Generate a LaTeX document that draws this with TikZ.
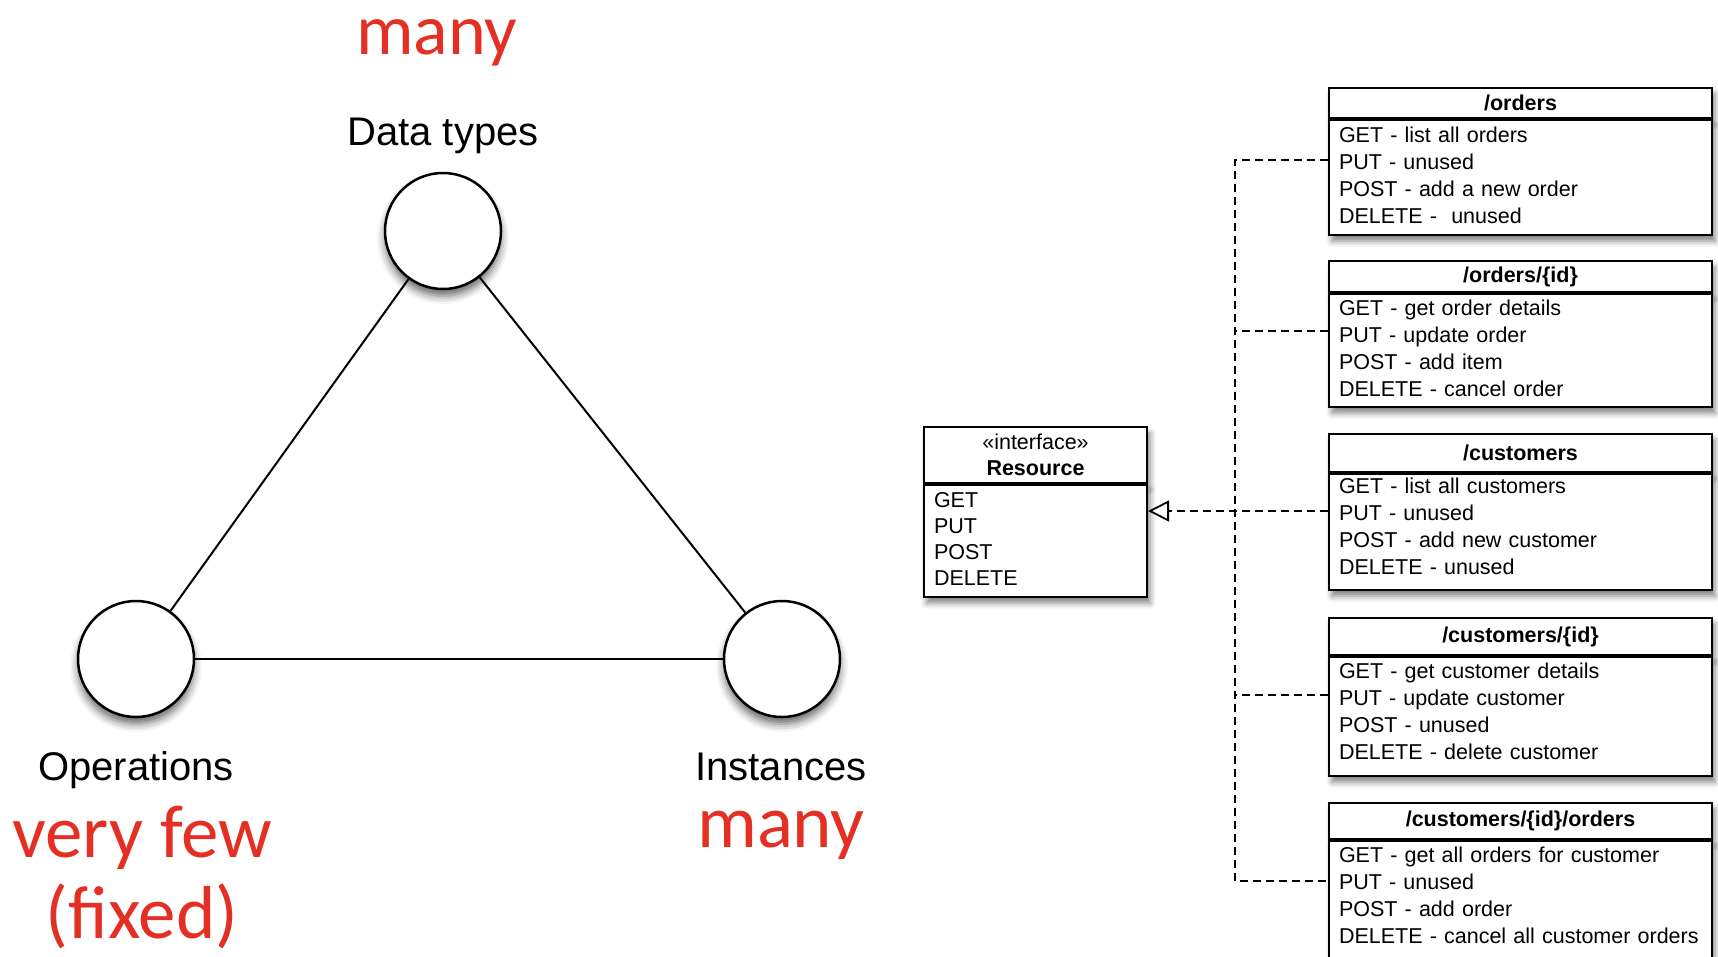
\documentclass[tikz,border=0pt]{standalone}
\usepackage{fontspec}
\setmainfont{Liberation Sans}
\newfontfamily\redfont{Carlito}
\usetikzlibrary{arrows.meta,shadows.blur,calc}
\definecolor{redtxt}{RGB}{228,48,36}
\tikzset{
  softshadow/.style={blur shadow={shadow xshift=3pt, shadow yshift=-6pt, shadow blur radius=6pt, shadow opacity=50}},
  vert/.style={circle, draw, line width=2.5pt, fill=white, minimum size=116pt, inner sep=0pt,
    blur shadow={shadow xshift=0pt, shadow yshift=-7pt, shadow blur radius=8pt, shadow opacity=60}},
  edgeline/.style={line width=2pt},
  blab/.style={font=\fontsize{40}{44}\selectfont, anchor=base, inner sep=0pt},
  rlab/.style={font=\redfont\fontsize{75}{80}\selectfont, text=redtxt, anchor=base, inner sep=0pt},
  umlhead/.style={draw, line width=2pt, fill=white, anchor=north west, minimum width=383pt,
    inner sep=0pt, font=\bfseries\fontsize{21.5}{26}\selectfont, softshadow},
  umlbody/.style={draw, line width=2pt, fill=white, anchor=north west, text width=363pt,
    inner xsep=10pt, inner ysep=0pt, align=left, font=\fontsize{21.5}{27}\selectfont, softshadow},
  dep/.style={line width=1.6pt, dash pattern=on 8pt off 5pt},
}
\begin{document}
\begin{tikzpicture}[x=1pt,y=-1pt]
\useasboundingbox (0,0) rectangle (1718,956);

% triangle of concepts
\node[vert] (dt) at (443,231) {};
\node[vert] (ops) at (136,659) {};
\node[vert] (inst) at (782,659) {};
\draw[edgeline] (dt) -- (ops);
\draw[edgeline] (dt) -- (inst);
\draw[edgeline] (ops) -- (inst);

\node[blab] (dtl) at (443,145) {Data types};
\node[blab] (opsl) at (136,780) {Operations};
\node[blab] (instl) at (781,780) {Instances};

\node[rlab, font=\redfont\fontsize{72}{76}\selectfont, text height=36pt] (dtr) at (437,54) {many};
\node[rlab] (opsr1) at (142,857) {very few};
\node[rlab] (opsr2) at (142,938) {(fixed)};
\node[rlab] (instr) at (781,847) {many};

% Resource interface
\node[umlhead, minimum width=223pt, minimum height=56pt, align=center,
  font=\fontsize{21.5}{26}\selectfont] (resH) at (923,426) {«interface»\\\textbf{Resource}};
\node[umlbody, text width=203pt, minimum height=112pt, font=\fontsize{21.5}{26}\selectfont,
  text depth=82pt] (resB) at (resH.south west) {GET\\PUT\\POST\\DELETE};

% resources
\node[umlhead, minimum height=30pt] (b1h) at (1328,87) {/orders};
\node[umlbody, minimum height=115pt, text depth=86pt] (b1b) at (b1h.south west)
  {GET - list all orders\\PUT - unused\\POST - add a new order\\DELETE - \ unused};

\node[umlhead, minimum height=31pt] (b2h) at (1328,260) {/orders/\{id\}};
\node[umlbody, minimum height=113pt, text depth=86pt] (b2b) at (b2h.south west)
  {GET - get order details\\PUT - update order\\POST - add item\\DELETE - cancel order};

\node[umlhead, minimum height=38pt] (b3h) at (1328,433) {/customers};
\node[umlbody, minimum height=116pt, text depth=92pt] (b3b) at (b3h.south west)
  {GET - list all customers\\PUT - unused\\POST - add new customer\\DELETE - unused};

\node[umlhead, minimum height=37pt] (b4h) at (1328,617) {/customers/\{id\}};
\node[umlbody, minimum height=119pt, text depth=92pt] (b4b) at (b4h.south west)
  {GET - get customer details\\PUT - update customer\\POST - unused\\DELETE - delete customer};

\node[umlhead, minimum height=36pt] (b5h) at (1328,802) {/customers/\{id\}/orders};
\node[umlbody, minimum height=120pt, text depth=92pt] (b5b) at (b5h.south west)
  {GET - get all orders for customer\\PUT - unused\\POST - add order\\DELETE - cancel all customer orders};

% connectors
\coordinate (bus) at (1235,0);
\coordinate (p1) at ($(b1h.north west)+(0,73)$);
\coordinate (p2) at ($(b2h.north west)+(0,71)$);
\coordinate (p3) at ($(b3h.north west)+(0,78)$);
\coordinate (p4) at ($(b4h.north west)+(0,78)$);
\coordinate (p5) at ($(b5h.north west)+(0,79)$);
\draw[dep] (p1) -- (p1 -| bus) -- (p5 -| bus) -- (p5);
\draw[dep] (p2) -- (p2 -| bus);
\draw[dep] (p4) -- (p4 -| bus);
\draw[dep, -{Triangle[open, length=21pt, width=21pt, line width=1.8pt]}] (p3) -- (p3 -| resB.east);
\end{tikzpicture}
\end{document}
